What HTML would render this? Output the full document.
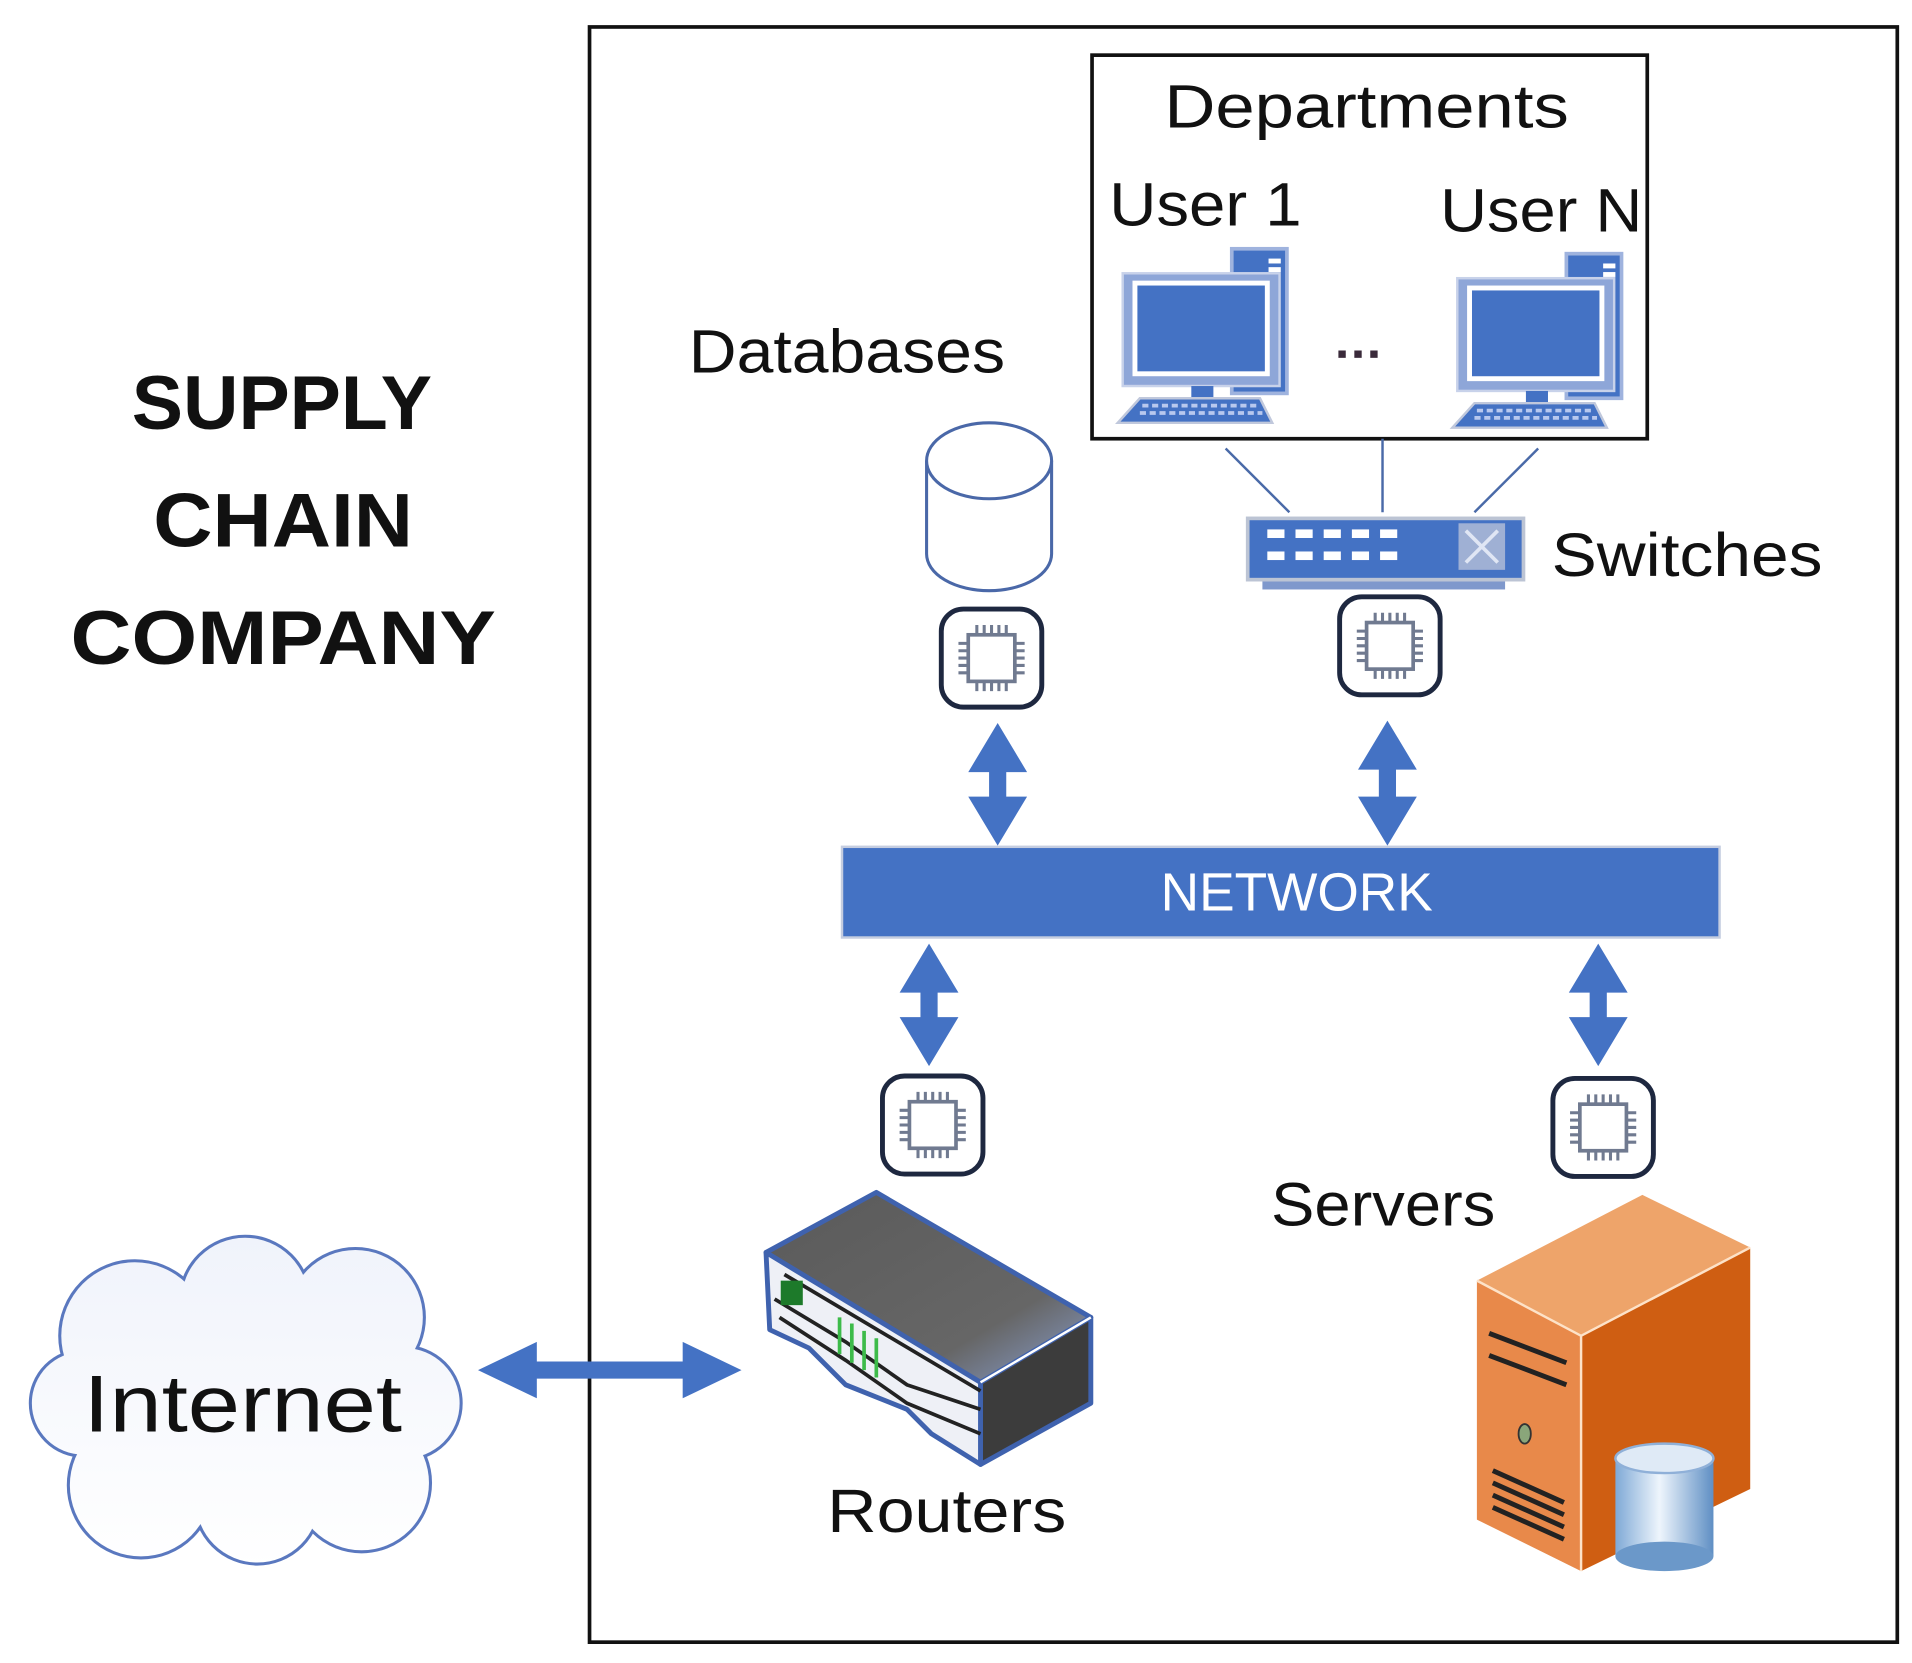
<!DOCTYPE html>
<html><head><meta charset="utf-8"><style>html,body{margin:0;padding:0;background:#fff}svg{display:block}</style></head>
<body>
<svg width="1912" height="1663" viewBox="0 0 1560 1357" preserveAspectRatio="none" xmlns="http://www.w3.org/2000/svg" font-family="Liberation Sans, sans-serif">
<defs>
<linearGradient id="cl" gradientUnits="userSpaceOnUse" x1="0" y1="1010" x2="0" y2="1280"><stop offset="0" stop-color="#f0f3fb"/><stop offset="1" stop-color="#ffffff"/></linearGradient>
<linearGradient id="cy" x1="0" y1="0" x2="1" y2="0"><stop offset="0" stop-color="#7fa9d6"/><stop offset=".45" stop-color="#eef5fc"/><stop offset="1" stop-color="#5f8fc4"/></linearGradient>
<linearGradient id="rt" x1="0" y1="0" x2="1" y2="1"><stop offset="0" stop-color="#5a5a5a"/><stop offset=".7" stop-color="#666"/><stop offset="1" stop-color="#8aa0d0"/></linearGradient>
<g id="chip">
<rect x="-41" y="-40" width="82" height="80" rx="18" fill="#fff" stroke="#1e2840" stroke-width="4"/>
<rect x="-19" y="-19" width="38" height="38" fill="#fff" stroke="#707a90" stroke-width="3"/>
<g stroke="#707a90" stroke-width="2.5">
<path d="M-12 -19v-8M-6 -19v-8M0 -19v-8M6 -19v-8M12 -19v-8M-12 19v8M-6 19v8M0 19v8M6 19v8M12 19v8M-19 -12h-8M-19 -6h-8M-19 0h-8M-19 6h-8M-19 12h-8M19 -12h8M19 -6h8M19 0h8M19 6h8M19 12h8"/>
</g></g>
<g id="pc">
<rect x="95" y="0" width="45" height="118" fill="#4472c4" stroke="#9fb3de" stroke-width="3"/>
<rect x="125" y="8" width="10" height="4" fill="#fff"/><rect x="125" y="15" width="10" height="4" fill="#fff"/>
<rect x="6" y="20" width="128" height="92" fill="#8ea6d8" stroke="#c8d2ea" stroke-width="2"/>
<rect x="14" y="26" width="112" height="78" fill="#fff"/>
<rect x="18" y="30" width="104" height="70" fill="#4472c4"/>
<rect x="62" y="112" width="18" height="10" fill="#4472c4"/>
<path d="M20 122 H118 L128 142 H2 Z" fill="#4472c4" stroke="#c0c8dc" stroke-width="2"/>
<path d="M22 128 H118 M20 134 H120" stroke="#b8c8ee" stroke-width="3" stroke-dasharray="5 3"/>
</g>
</defs>

<rect x="481" y="22" width="1067" height="1318" fill="none" stroke="#111" stroke-width="3"/>

<g font-weight="bold" font-size="62" fill="#111" text-anchor="middle">
<text x="230" y="350" textLength="245" lengthAdjust="spacingAndGlyphs">SUPPLY</text>
<text x="231" y="446" textLength="212" lengthAdjust="spacingAndGlyphs">CHAIN</text>
<text x="231" y="542" textLength="347" lengthAdjust="spacingAndGlyphs">COMPANY</text>
</g>

<rect x="891" y="45" width="453" height="313" fill="#fff" stroke="#111" stroke-width="3"/>
<g font-size="50" fill="#111">
<text x="950" y="104" textLength="330" lengthAdjust="spacingAndGlyphs">Departments</text>
<text x="905" y="184" textLength="157" lengthAdjust="spacingAndGlyphs">User 1</text>
<text x="1175" y="189" textLength="165" lengthAdjust="spacingAndGlyphs">User N</text>
<text x="562" y="304" textLength="258" lengthAdjust="spacingAndGlyphs">Databases</text>
<text x="1266" y="470" textLength="221" lengthAdjust="spacingAndGlyphs">Switches</text>
<text x="675" y="1250" textLength="195" lengthAdjust="spacingAndGlyphs">Routers</text>
<text x="1037" y="1000" textLength="183" lengthAdjust="spacingAndGlyphs">Servers</text>
</g>
<use href="#pc" x="910" y="203"/>
<use href="#pc" x="1183" y="207"/>
<g fill="#3a2a3a"><rect x="1092" y="286" width="6" height="6"/><rect x="1105" y="286" width="6" height="6"/><rect x="1118" y="286" width="6" height="6"/></g>

<g stroke="#4a6aa8" stroke-width="2"><line x1="1000" y1="366" x2="1052" y2="418"/><line x1="1128" y1="358" x2="1128" y2="418"/><line x1="1255" y1="366" x2="1203" y2="418"/></g>
<rect x="1030" y="469" width="198" height="12" fill="#7f98cc"/>
<rect x="1018" y="423" width="225" height="50" fill="#4472c4" stroke="#bcc4d4" stroke-width="3"/>
<g fill="#fff"><rect x="1034" y="432" width="14" height="7"/><rect x="1057" y="432" width="14" height="7"/><rect x="1080" y="432" width="14" height="7"/><rect x="1103" y="432" width="14" height="7"/><rect x="1126" y="432" width="14" height="7"/>
<rect x="1034" y="450" width="14" height="7"/><rect x="1057" y="450" width="14" height="7"/><rect x="1080" y="450" width="14" height="7"/><rect x="1103" y="450" width="14" height="7"/><rect x="1126" y="450" width="14" height="7"/></g>
<rect x="1190" y="427" width="38" height="38" fill="#9fb0d4"/>
<path d="M1196 433 L1222 459 M1222 433 L1196 459" stroke="#e0e6f4" stroke-width="3"/>

<path d="M756 376 V452 A51 30 0 0 0 858 452 V376" fill="#fff" stroke="#4a68a8" stroke-width="2.5"/>
<ellipse cx="807" cy="376" rx="51" ry="31" fill="#fff" stroke="#4a68a8" stroke-width="2.5"/>

<use href="#chip" x="809" y="537"/>
<use href="#chip" x="1134" y="527"/>
<use href="#chip" x="761" y="918"/>
<use href="#chip" x="1308" y="920"/>

<g fill="#4472c4">
<polygon points="814,590 838,630 821,630 821,650 838,650 814,690 790,650 807,650 807,630 790,630"/>
<polygon points="1132,588 1156,628 1139,628 1139,650 1156,650 1132,690 1108,650 1125,650 1125,628 1108,628"/>
<polygon points="758,770 782,810 765,810 765,830 782,830 758,870 734,830 751,830 751,810 734,810"/>
<polygon points="1304,770 1328,810 1311,810 1311,830 1328,830 1304,870 1280,830 1297,830 1297,810 1280,810"/>
<polygon points="390,1118 438,1095 438,1111 557,1111 557,1095 605,1118 557,1141 557,1125 438,1125 438,1141"/>
</g>

<rect x="687" y="691" width="716" height="74" fill="#4472c4" stroke="#c5cde0" stroke-width="2"/>
<text x="1058" y="743" font-size="44" fill="#fff" text-anchor="middle" textLength="222" lengthAdjust="spacingAndGlyphs">NETWORK</text>

<g stroke="#5a78bf" stroke-width="5">
<circle cx="110" cy="1090" r="60"/><circle cx="200" cy="1062" r="52"/><circle cx="290" cy="1075" r="55"/><circle cx="330" cy="1145" r="45"/><circle cx="295" cy="1210" r="55"/><circle cx="210" cy="1225" r="50"/><circle cx="115" cy="1212" r="58"/><circle cx="68" cy="1145" r="42"/>
</g>
<g fill="url(#cl)">
<circle cx="110" cy="1090" r="60"/><circle cx="200" cy="1062" r="52"/><circle cx="290" cy="1075" r="55"/><circle cx="330" cy="1145" r="45"/><circle cx="295" cy="1210" r="55"/><circle cx="210" cy="1225" r="50"/><circle cx="115" cy="1212" r="58"/><circle cx="68" cy="1145" r="42"/><circle cx="200" cy="1145" r="95"/>
</g>
<text x="68" y="1168" font-size="66" fill="#111" textLength="260" lengthAdjust="spacingAndGlyphs">Internet</text>

<g stroke="#3f62ae" stroke-width="4" stroke-linejoin="round">
<polygon points="625,1022 715,973 890,1075 800,1128" fill="url(#rt)"/>
<polygon points="800,1128 890,1075 890,1145 800,1195" fill="#3c3c3c"/>
<path d="M625,1022 L800,1128 L800,1195 L760,1170 L740,1150 L690,1130 L660,1100 L628,1085 Z" fill="#eef0f6"/>
</g>
<g stroke="#222" stroke-width="3" fill="none"><path d="M632 1060 L690 1095 L740 1130 L800 1150"/><path d="M636 1075 L690 1110 L740 1145 L800 1170"/><path d="M640 1040 L800 1135"/></g>
<rect x="637" y="1045" width="18" height="20" fill="#1d7a2a"/>
<g stroke="#3dbb4a" stroke-width="3"><path d="M685 1075v30M695 1080v32M705 1086v32M715 1092v32"/></g>
<line x1="800" y1="1128" x2="890" y2="1075" stroke="#fff" stroke-width="2"/>

<polygon points="1205,1045 1340,975 1428,1018 1290,1090" fill="#eea46a"/>
<polygon points="1205,1045 1290,1090 1290,1282 1205,1240" fill="#e8894a"/>
<polygon points="1290,1090 1428,1018 1428,1215 1290,1282" fill="#cf5e12"/>
<path d="M1205,1045 L1290,1090 L1428,1018 M1290,1090 V1282" stroke="#fde2c8" stroke-width="2" fill="none"/>
<g stroke="#222" stroke-width="4"><path d="M1215 1088 L1278 1112 M1215 1106 L1278 1130"/><path d="M1218 1200 L1276 1226 M1218 1210 L1276 1236 M1218 1220 L1276 1246 M1218 1230 L1276 1256"/></g>
<ellipse cx="1244" cy="1170" rx="5" ry="8" fill="#8aa67a" stroke="#333" stroke-width="1.5"/>
<rect x="1318" y="1190" width="80" height="80" fill="url(#cy)"/>
<ellipse cx="1358" cy="1270" rx="40" ry="12" fill="#6b98c9"/>
<ellipse cx="1358" cy="1190" rx="40" ry="12" fill="#dfeaf6" stroke="#8fb0d8" stroke-width="2"/>
</svg>
</body></html>
